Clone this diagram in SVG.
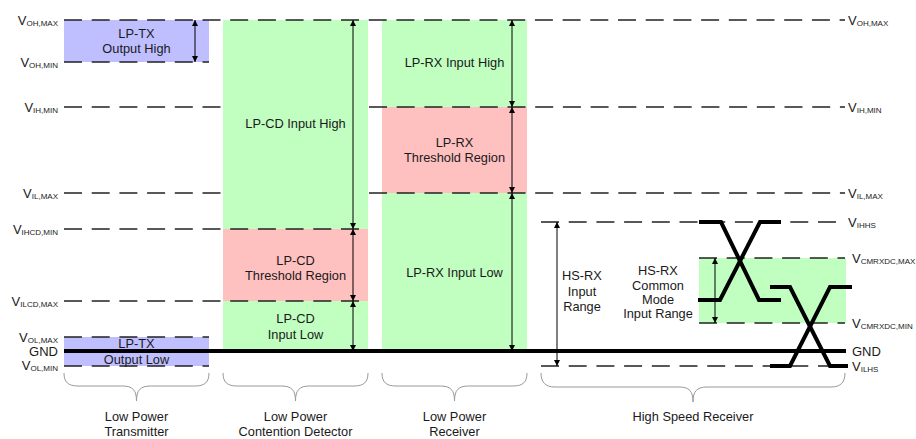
<svg xmlns="http://www.w3.org/2000/svg" width="916" height="439" viewBox="0 0 916 439">
<style>
text{font-family:"Liberation Sans",Arial,sans-serif;fill:#1a1a1a;}
.t{font-size:12.8px;text-anchor:middle;}
.v{font-size:13px;}
.sub{font-size:8px;}
.dash{stroke:#222;stroke-width:1.6;stroke-dasharray:18 9.7;fill:none;}
.gnd{stroke:#000;stroke-width:4;fill:none;}
.eye{stroke:#000;stroke-width:4;fill:none;stroke-linejoin:miter;}
.arr{stroke:#000;stroke-width:1;fill:none;marker-start:url(#ah);marker-end:url(#ah);}
.brace{stroke:#999;stroke-width:1;fill:none;}
.green{fill:#C0FFC0;}
.red{fill:#FFC0C0;}
.blue{fill:#BFBFFF;}
</style>
<defs>
<marker id="ah" viewBox="0 0 6 6" refX="6" refY="3" markerWidth="6" markerHeight="6" markerUnits="userSpaceOnUse" orient="auto-start-reverse">
<path d="M0,0 L6,3 L0,6 z" fill="#000"/>
</marker>
</defs>

<g id="lp-tx">
<rect class="blue" x="64" y="20" width="145" height="42"/>
<rect class="blue" x="64" y="337" width="145" height="29"/>
</g>
<g id="lp-cd">
<rect class="green" x="223" y="20" width="145" height="331"/>
<rect class="red" x="223" y="229" width="145" height="72"/>
</g>
<g id="lp-rx">
<rect class="green" x="382" y="20" width="145" height="331"/>
<rect class="red" x="382" y="107" width="145" height="86"/>
</g>
<g id="hs-cm">
<rect class="green" x="699" y="258" width="147" height="65"/>
</g>

<g id="levels">
<path class="dash" d="M64,20 H845"/>
<path class="dash" d="M64,62 H209"/>
<path class="dash" d="M64,107 H222"/>
<path class="dash" d="M369,107 H845"/>
<path class="dash" d="M64,193 H222"/>
<path class="dash" d="M369,193 H845"/>
<path class="dash" d="M64,229 H368"/>
<path class="dash" d="M64,301 H368"/>
<path class="dash" d="M64,337 H209"/>
<path class="dash" d="M64,366 H209"/>
<path class="dash" d="M541,366 H845"/>
<path class="dash" d="M541,222 H845"/>
<path class="dash" d="M699,258 H845"/>
<path class="dash" d="M699,323 H845"/>
<path class="gnd" d="M64,351 H846"/>
</g>

<g id="eyes">
<path class="eye" d="M699,222 H721 L759,300 H781"/>
<path class="eye" d="M698,300 H720 L760,222 H781"/>
<path class="eye" d="M770,287 H790 L830,366 H848"/>
<path class="eye" d="M770,366 H790 L830,287 H852"/>
</g>

<g id="connectors">
<path class="arr" d="M195,20 V62"/>
<path class="arr" d="M353,20 V229"/>
<path class="arr" d="M353,229 V301"/>
<path class="arr" d="M353,301 V351"/>
<path class="arr" d="M512,20 V107"/>
<path class="arr" d="M512,107 V193"/>
<path class="arr" d="M512,193 V351"/>
<path class="arr" d="M557,222 V366"/>
<path class="arr" d="M715,258 V323"/>
</g>

<g id="labels-left">
<text class="v" x="58" y="25" text-anchor="end">V<tspan class="sub" dy="1">OH,MAX</tspan></text>
<text class="v" x="58" y="67" text-anchor="end">V<tspan class="sub" dy="1">OH,MIN</tspan></text>
<text class="v" x="58" y="112" text-anchor="end">V<tspan class="sub" dy="1">IH,MIN</tspan></text>
<text class="v" x="58" y="198" text-anchor="end">V<tspan class="sub" dy="1">IL,MAX</tspan></text>
<text class="v" x="58" y="234" text-anchor="end">V<tspan class="sub" dy="1">IHCD,MIN</tspan></text>
<text class="v" x="58" y="306" text-anchor="end">V<tspan class="sub" dy="1">ILCD,MAX</tspan></text>
<text class="v" x="58" y="342" text-anchor="end">V<tspan class="sub" dy="1">OL,MAX</tspan></text>
<text class="v" x="58" y="356" text-anchor="end">GND</text>
<text class="v" x="58" y="370" text-anchor="end">V<tspan class="sub" dy="1">OL,MIN</tspan></text>
</g>

<g id="labels-right">
<text class="v" x="848" y="25">V<tspan class="sub" dy="1">OH,MAX</tspan></text>
<text class="v" x="848" y="112">V<tspan class="sub" dy="1">IH,MIN</tspan></text>
<text class="v" x="848" y="198">V<tspan class="sub" dy="1">IL,MAX</tspan></text>
<text class="v" x="848" y="227">V<tspan class="sub" dy="1">IHHS</tspan></text>
<text class="v" x="852" y="263">V<tspan class="sub" dy="1">CMRXDC,MAX</tspan></text>
<text class="v" x="852" y="328">V<tspan class="sub" dy="1">CMRXDC,MIN</tspan></text>
<text class="v" x="852" y="356">GND</text>
<text class="v" x="852" y="371">V<tspan class="sub" dy="1">ILHS</tspan></text>
</g>

<g id="region-text">
<text class="t" x="136.5" y="38">LP-TX</text>
<text class="t" x="136.5" y="53">Output High</text>
<text class="t" x="136.5" y="348">LP-TX</text>
<text class="t" x="136.5" y="364">Output Low</text>
<text class="t" x="295.5" y="128">LP-CD Input High</text>
<text class="t" x="295.5" y="265">LP-CD</text>
<text class="t" x="295.5" y="280">Threshold Region</text>
<text class="t" x="295.5" y="323">LP-CD</text>
<text class="t" x="295.5" y="339">Input Low</text>
<text class="t" x="454.5" y="67">LP-RX Input High</text>
<text class="t" x="454.5" y="147">LP-RX</text>
<text class="t" x="454.5" y="162">Threshold Region</text>
<text class="t" x="454.5" y="277">LP-RX Input Low</text>
<text class="t" x="582" y="280">HS-RX</text>
<text class="t" x="582" y="295.5">Input</text>
<text class="t" x="582" y="310.5">Range</text>
<text class="t" x="658" y="275">HS-RX</text>
<text class="t" x="658" y="289.5">Common</text>
<text class="t" x="658" y="304">Mode</text>
<text class="t" x="658" y="318">Input Range</text>
</g>

<g id="braces">
<path class="brace" d="M64,373 C64,382 68,386 78,386 L122.5,386 C132.5,386 136.5,390 136.5,401 C136.5,390 140.5,386 150.5,386 L195,386 C205,386 209,382 209,373"/>
<path class="brace" d="M223,373 C223,382 227,386 237,386 L281.5,386 C291.5,386 295.5,390 295.5,401 C295.5,390 299.5,386 309.5,386 L354,386 C364,386 368,382 368,373"/>
<path class="brace" d="M382,373 C382,382 386,386 396,386 L440.5,386 C450.5,386 454.5,390 454.5,401 C454.5,390 458.5,386 468.5,386 L513,386 C523,386 527,382 527,373"/>
<path class="brace" d="M541,373 C541,382 545,387 555,387 L679,387 C689,387 693,391 693,402 C693,391 697,387 707,387 L831,387 C841,387 845,382 845,373"/>
</g>

<g id="group-labels">
<text class="t" x="136.5" y="421">Low Power</text>
<text class="t" x="136.5" y="435.5">Transmitter</text>
<text class="t" x="295.5" y="421">Low Power</text>
<text class="t" x="295.5" y="435.5">Contention Detector</text>
<text class="t" x="454.5" y="421">Low Power</text>
<text class="t" x="454.5" y="435.5">Receiver</text>
<text class="t" x="693" y="421">High Speed Receiver</text>
</g>
</svg>
